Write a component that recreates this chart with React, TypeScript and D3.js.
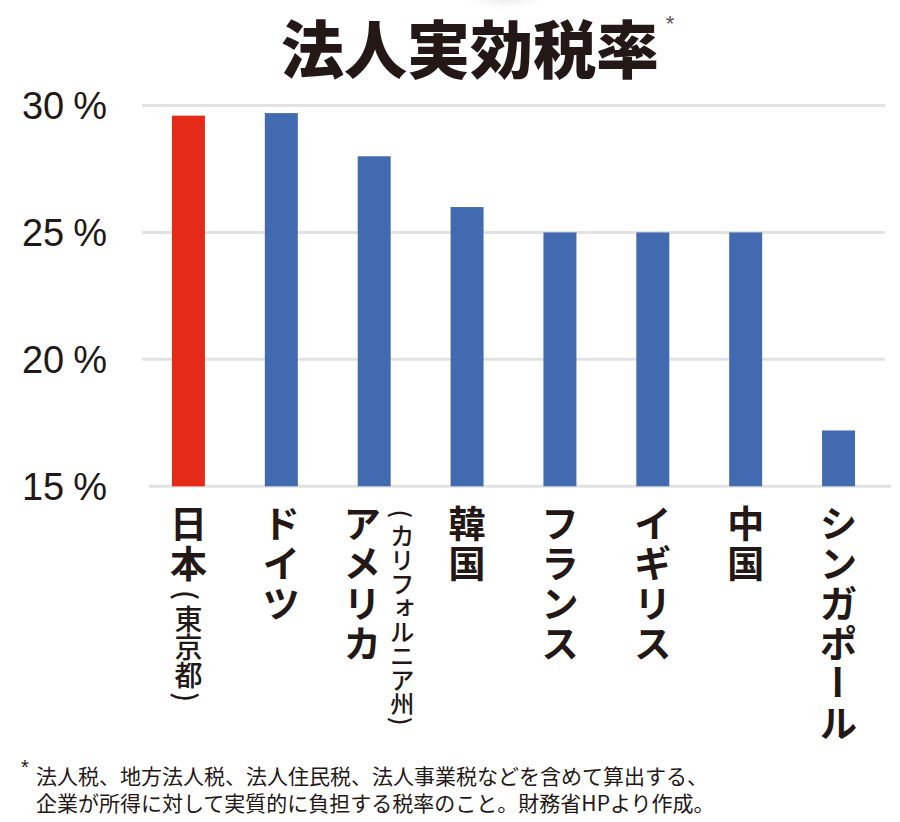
import React from "react";
import * as d3 from "d3";

const categories = ["日本", "ドイツ", "アメリカ", "韓国", "フランス", "イギリス", "中国", "シンガポール"];
const subLabels = ["（東京都）", "", "（カリフォルニア州）", "", "", "", "", ""];
const subPlacement = ["below", "", "beside", "", "", "", "", ""];
const rates = [29.6, 29.7, 28.0, 26.0, 25.0, 25.0, 25.0, 17.2];
const highlighted = ["日本"];
const yTicks = [15, 20, 25, 30];
const titleText = "法人実効税率";
const footnoteLines = [
  "法人税、地方法人税、法人住民税、法人事業税などを含めて算出する、",
  "企業が所得に対して実質的に負担する税率のこと。財務省HPより作成。",
];

const W = 900;
const H = 822;
const INK = "#231815";
const RED = "#E52B18";
const BLUE = "#416AB0";
const GRID = "#e2e2e2";
const JP = "'Noto Sans CJK JP', 'Noto Sans CJK SC', sans-serif";
const LAT = "'Liberation Sans', Arial, Helvetica, sans-serif";

const SMALL_KANA = "ァィゥェォッャュョヮぁぃぅぇぉっゃゅょ";

type Glyph = { ch: string; cx: number; cy: number; rotate: boolean; fs: number; weight: number };

function layoutVertical(
  str: string, cx: number, fontSize: number, pitch: number, startY: number, weight: number,
) {
  const out: Glyph[] = [];
  let y = startY;
  for (const raw of Array.from(str)) {
    let ch = raw;
    let adv = pitch;
    let rotate = false;
    let dx = 0;
    let dy = 0;
    if (raw === "（" || raw === "(") {
      ch = "(";
      rotate = true;
      adv = fontSize * 0.65;
    } else if (raw === "）" || raw === ")") {
      ch = ")";
      rotate = true;
      adv = fontSize * 0.65;
    } else if (raw === "ー") {
      rotate = true;
    } else if (SMALL_KANA.includes(raw)) {
      dx = fontSize * 0.1;
      dy = -fontSize * 0.1;
    }
    out.push({ ch, cx: cx + dx, cy: y + adv / 2 + dy, rotate, fs: fontSize, weight });
    y += adv;
  }
  return { glyphs: out, end: y };
}

function VerticalLabel({ glyphs }: { glyphs: Glyph[] }) {
  const upright = glyphs.filter((g) => !g.rotate);
  const turned = glyphs.filter((g) => g.rotate);
  return (
    <g>
      <text textAnchor="middle" dominantBaseline="central" fontFamily={JP} fill={INK}>
        {upright.map((g, i) => (
          <tspan key={i} x={g.cx} y={g.cy} fontSize={g.fs} fontWeight={g.weight}>
            {g.ch}
          </tspan>
        ))}
      </text>
      {turned.map((g, i) => (
        <text
          key={`r${i}`}
          x={g.cx}
          y={g.cy}
          textAnchor="middle"
          dominantBaseline="central"
          fontFamily={JP}
          fontWeight={g.weight}
          fontSize={g.fs}
          fill={INK}
          transform={`rotate(90 ${g.cx} ${g.cy})`}
        >
          {g.ch}
        </text>
      ))}
    </g>
  );
}

export default function App() {
  const x = d3
    .scaleBand<string>()
    .domain(categories)
    .range([142, 885])
    .paddingInner(0.645)
    .paddingOuter(0.3225);
  const y = d3.scaleLinear().domain([15, 30]).range([486.3, 105.5]);
  const bw = x.bandwidth();

  const MAIN_FS = 37;
  const MAIN_PITCH = 40;
  const MAIN_START = 502;

  return (
    <svg
      width={W}
      height={H}
      viewBox={`0 0 ${W} ${H}`}
      style={{ position: "absolute", left: 0, top: 0, background: "#fff" }}
    >
      <defs>
        <radialGradient id="shade" cx="50%" cy="50%" r="50%">
          <stop offset="0%" stopColor="#bbb" stopOpacity={0.6} />
          <stop offset="100%" stopColor="#fff" stopOpacity={0} />
        </radialGradient>
      </defs>
      <rect x={0} y={0} width={W} height={H} fill="#fff" />
      <ellipse cx={505} cy={-6} rx={50} ry={18} fill="url(#shade)" />

      {/* Title */}
      <text x={470} y={73} textAnchor="middle" fontFamily={JP} fontWeight={900} fontSize={63} fill={INK}>
        {titleText}
      </text>
      <text x={670} y={31} textAnchor="middle" fontFamily={LAT} fontSize={22} fill="#555">
        *
      </text>

      {/* Gridlines */}
      {yTicks.map((t) => (
        <line
          key={`g${t}`}
          x1={t === 15 ? 149 : 142}
          x2={t === 15 ? 891 : 885}
          y1={y(t)}
          y2={y(t)}
          stroke={GRID}
          strokeWidth={3}
        />
      ))}

      {/* Y tick labels */}
      {yTicks.map((t) => (
        <text
          key={`t${t}`}
          x={107}
          y={y(t) + 13.5}
          textAnchor="end"
          fontFamily={LAT}
          fontSize={38}
          fill={INK}
        >
          {String(t)}
          <tspan dx={9}>%</tspan>
        </text>
      ))}

      {/* Bars */}
      {categories.map((c, i) => (
        <rect
          key={`b${c}`}
          x={x(c)}
          y={y(rates[i])}
          width={bw}
          height={y(15) - y(rates[i])}
          fill={highlighted.includes(c) ? RED : BLUE}
        />
      ))}

      {/* Category labels (vertical) */}
      {categories.map((c, i) => {
        const center = (x(c) ?? 0) + bw / 2;
        const sub = subLabels[i];
        const place = subPlacement[i];
        const mainCx = place === "beside" ? center - 12 : center;
        const main = layoutVertical(c, mainCx, MAIN_FS, MAIN_PITCH, MAIN_START, 700);
        let glyphs = main.glyphs;
        if (sub && place === "below") {
          glyphs = glyphs.concat(layoutVertical(sub, center, 28, 28, main.end + 4, 500).glyphs);
        }
        if (sub && place === "beside") {
          glyphs = glyphs.concat(layoutVertical(sub, center + 28, 24, 24, 506, 500).glyphs);
        }
        return <VerticalLabel key={`l${c}`} glyphs={glyphs} />;
      })}

      {/* Footnote */}
      <text x={25} y={774} textAnchor="middle" fontFamily={LAT} fontSize={20} fill={INK}>
        *
      </text>
      {footnoteLines.map((line, i) => (
        <text
          key={`f${i}`}
          x={36}
          y={775 + i * 27}
          dominantBaseline="central"
          fontFamily={JP}
          fontSize={21}
          fill={INK}
        >
          {line}
        </text>
      ))}
    </svg>
  );
}
